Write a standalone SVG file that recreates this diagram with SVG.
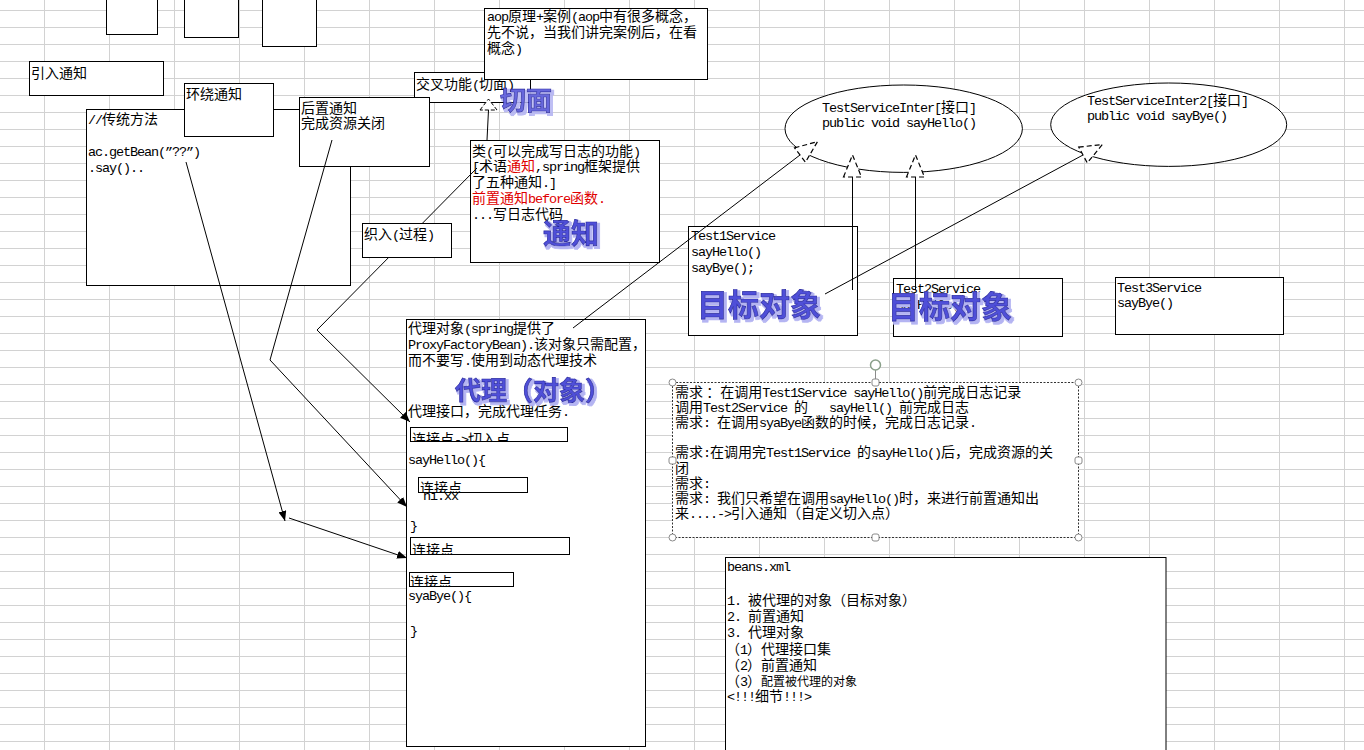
<svg xmlns="http://www.w3.org/2000/svg" width="1364" height="750" viewBox="0 0 1364 750">
<style>
.b{fill:#fff;stroke:#000;stroke-width:1}
.t{font-family:"Noto Sans CJK SC","Liberation Sans",sans-serif;font-size:14px;fill:#000}
.m{font-family:"Liberation Mono","Noto Sans CJK SC",monospace;font-size:13.5px;letter-spacing:-1.1px}
.r{fill:#e00000}
.c{fill:none;stroke:#000;stroke-width:1}
.wa{font-family:"Noto Sans CJK SC",sans-serif;font-weight:bold;fill:#5050d8;stroke:#2828a0;stroke-width:0.7;filter:url(#waf)}
.h{fill:#fff;stroke:#8a8a8a;stroke-width:1}
</style>
<defs>
<filter id="waf" x="-10%" y="-25%" width="125%" height="160%">
<feMorphology in="SourceAlpha" operator="dilate" radius="1.3" result="d"/>
<feOffset in="d" dx="2" dy="2" result="o"/>
<feFlood flood-color="#b4b4f2"/>
<feComposite in2="o" operator="in" result="s"/>
<feMerge><feMergeNode in="s"/><feMergeNode in="SourceGraphic"/></feMerge>
</filter>
<marker id="ah" viewBox="0 0 10 8" refX="10" refY="4" markerWidth="10" markerHeight="8" markerUnits="userSpaceOnUse" orient="auto"><path d="M0,0 L10,4 L0,8 Z" fill="#000"/></marker>
<marker id="tri" viewBox="-2 -2 26 24" refX="0" refY="10" markerWidth="26" markerHeight="24" markerUnits="userSpaceOnUse" orient="auto"><path d="M0,1 L22,10 L0,19 Z" fill="#fff" stroke="#000" stroke-width="1.2" stroke-dasharray="5,3"/></marker>
<clipPath id="cp1"><rect x="411" y="428" width="156" height="13"/></clipPath>
<clipPath id="cp2"><rect x="419" y="478" width="108" height="14"/></clipPath>
<clipPath id="cp3"><rect x="411" y="538" width="158" height="16"/></clipPath>
<clipPath id="cp4"><rect x="410" y="573" width="103" height="13"/></clipPath>
</defs>
<rect x="0" y="0" width="1364" height="750" fill="#fff"/>
<path id="grid" fill="none" stroke="#d2d2d2" stroke-width="1" d="M44.5 0V750M109.5 0V750M174.5 0V750M239.5 0V750M304.5 0V750M369.5 0V750M434.5 0V750M499.5 0V750M564.5 0V750M629.5 0V750M694.5 0V750M759.5 0V750M824.5 0V750M889.5 0V750M954.5 0V750M1019.5 0V750M1084.5 0V750M1149.5 0V750M1214.5 0V750M1279.5 0V750M1344.5 0V750M0 10.5H1364M0 27.5H1364M0 44.5H1364M0 61.5H1364M0 78.5H1364M0 95.5H1364M0 112.5H1364M0 129.5H1364M0 146.5H1364M0 163.5H1364M0 180.5H1364M0 197.5H1364M0 214.5H1364M0 231.5H1364M0 248.5H1364M0 265.5H1364M0 282.5H1364M0 299.5H1364M0 316.5H1364M0 333.5H1364M0 350.5H1364M0 367.5H1364M0 384.5H1364M0 401.5H1364M0 418.5H1364M0 435.5H1364M0 452.5H1364M0 469.5H1364M0 486.5H1364M0 503.5H1364M0 520.5H1364M0 537.5H1364M0 554.5H1364M0 571.5H1364M0 588.5H1364M0 605.5H1364M0 622.5H1364M0 639.5H1364M0 656.5H1364M0 673.5H1364M0 690.5H1364M0 707.5H1364M0 724.5H1364M0 741.5H1364"/>

<g id="box-top1"><rect class="b" x="106.5" y="-5" width="51" height="39.5"/></g>
<g id="box-top2"><rect class="b" x="184.5" y="-5" width="54" height="42.5"/></g>
<g id="box-top3"><rect class="b" x="262.5" y="-5" width="54" height="51.5"/></g>

<g id="n-yinru"><rect class="b" x="29.5" y="61.5" width="134" height="34"/><text class="t" x="31" y="78">引入通知</text></g>

<g id="n-traditional"><rect class="b" x="86.5" y="109.5" width="264" height="176"/>
<text class="t" x="88" y="124"><tspan class="m">//</tspan>传统方法</text>
<text class="t m" x="88" y="156">ac.getBean(”??”)</text>
<text class="t m" x="88" y="172">.say()..</text></g>

<g id="n-around"><rect class="b" x="184.5" y="83.5" width="89" height="53"/><text class="t" x="186" y="99">环绕通知</text></g>

<g id="n-aspect"><rect class="b" x="414.5" y="72.5" width="116" height="30"/><text class="t" x="416" y="89">交叉功能<tspan class="m">(</tspan>切面<tspan class="m">)</tspan></text></g>

<g id="n-after"><rect class="b" x="299.5" y="97.5" width="130" height="69"/><text class="t" x="301" y="112.5">后置通知</text><text class="t" x="301" y="127.5">完成资源关闭</text></g>

<g id="n-aop"><rect class="b" x="484.5" y="8.5" width="223" height="71"/>
<text class="t" x="487" y="20.5"><tspan class="m">aop</tspan>原理<tspan class="m">+</tspan>案例<tspan class="m">(aop</tspan>中有很多概念，</text>
<text class="t" x="487" y="36.5">先不说，当我们讲完案例后，在看</text>
<text class="t" x="487" y="52.5">概念<tspan class="m">)</tspan></text></g>

<g id="n-advice"><rect class="b" x="470.5" y="140.5" width="189" height="122"/>
<text class="t" x="472" y="155.5">类<tspan class="m">(</tspan>可以完成写日志的功能<tspan class="m">)</tspan></text>
<text class="t" x="472" y="171"><tspan class="m">[</tspan>术语<tspan class="r">通知</tspan><tspan class="m">,spring</tspan>框架提供</text>
<text class="t" x="472" y="187">了五种通知<tspan class="m">.]</tspan></text>
<text class="t r" x="472" y="203">前置通知<tspan class="m">before</tspan>函数<tspan class="m">.</tspan></text>
<text class="t" x="472" y="219"><tspan class="m">...</tspan>写日志代码</text></g>

<g id="n-proxy"><rect class="b" x="406.5" y="319.5" width="239" height="427"/>
<text class="t" x="408" y="333">代理对象<tspan class="m">(spring</tspan>提供了</text>
<text class="t" x="408" y="348.5"><tspan class="m">ProxyFactoryBean).</tspan>该对象只需配置，</text>
<text class="t" x="408" y="364.5">而不要写<tspan class="m">.</tspan>使用到动态代理技术</text>
<text class="t" x="408" y="415.5">代理接口，完成代理任务<tspan class="m">.</tspan></text>
<text class="t m" x="408" y="464">sayHello(){</text>
<text class="t m" x="423" y="499.5">hi.xx</text>
<text class="t m" x="410" y="530">}</text>
<text class="t m" x="408" y="600">syaBye(){</text>
<text class="t m" x="410" y="635">}</text></g>

<g id="n-jp1"><rect class="b" x="410.5" y="427.5" width="157" height="14"/><text class="t" x="412" y="444" clip-path="url(#cp1)">连接点<tspan class="m">-&gt;</tspan>切入点</text></g>
<g id="n-jp2"><rect class="b" x="418.5" y="477.5" width="109" height="15"/><text class="t" x="420" y="493" clip-path="url(#cp2)">连接点</text></g>
<g id="n-jp3"><rect class="b" x="410.5" y="537.5" width="159" height="17"/><text class="t" x="412" y="554.5" clip-path="url(#cp3)">连接点</text></g>
<g id="n-jp4"><rect class="b" x="409.5" y="572.5" width="104" height="14"/><text class="t" x="410" y="587.3" clip-path="url(#cp4)">连接点</text></g>

<g id="n-inter1"><ellipse class="b" cx="903.7" cy="128.7" rx="118.7" ry="43.7"/>
<text class="t" x="822" y="112"><tspan class="m">TestServiceInter[</tspan>接口<tspan class="m">]</tspan></text>
<text class="t m" x="822" y="127">public void sayHello()</text></g>

<g id="n-inter2"><ellipse class="b" cx="1168.7" cy="124.7" rx="118" ry="41.7"/>
<text class="t" x="1087" y="105"><tspan class="m">TestServiceInter2[</tspan>接口<tspan class="m">]</tspan></text>
<text class="t m" x="1087" y="119.5">public void sayBye()</text></g>

<g id="n-test1"><rect class="b" x="688.5" y="226.5" width="169" height="109"/>
<text class="t m" x="691" y="240">Test1Service</text>
<text class="t m" x="691" y="256">sayHello()</text>
<text class="t m" x="691" y="272">sayBye();</text></g>

<g id="n-test2"><rect class="b" x="893.5" y="278.5" width="169" height="58"/>
<text class="t m" x="896" y="293">Test2Service</text>
<text class="t m" x="896" y="309">sayHello()</text></g>

<g id="n-test3"><rect class="b" x="1115.5" y="277.5" width="168" height="57"/>
<text class="t m" x="1117" y="291.5">Test3Service</text>
<text class="t m" x="1117" y="306.5">sayBye()</text></g>

<g id="n-req"><rect x="672.5" y="382.5" width="406" height="155" fill="#fff" stroke="#333" stroke-width="1" stroke-dasharray="2,1.5"/>
<text class="t" x="675" y="396.5" xml:space="preserve">需求 ：在调用<tspan class="m">Test1Service sayHello()</tspan>前完成日志记录</text>
<text class="t" x="675" y="411.7" xml:space="preserve">调用<tspan class="m">Test2Service </tspan>的<tspan class="m">   sayHell() </tspan>前完成日志</text>
<text class="t" x="675" y="426.9" xml:space="preserve">需求<tspan class="m">: </tspan>在调用<tspan class="m">syaBye</tspan>函数的时候，完成日志记录<tspan class="m">.</tspan></text>
<text class="t" x="675" y="457.3" xml:space="preserve">需求<tspan class="m">:</tspan>在调用完<tspan class="m">Test1Service </tspan>的<tspan class="m">sayHello()</tspan>后，完成资源的关</text>
<text class="t" x="675" y="472.5">闭</text>
<text class="t" x="675" y="487.7">需求<tspan class="m">:</tspan></text>
<text class="t" x="675" y="502.9" xml:space="preserve">需求<tspan class="m">: </tspan>我们只希望在调用<tspan class="m">sayHello()</tspan>时，来进行前置通知出</text>
<text class="t" x="675" y="518.1">来<tspan class="m">....-&gt;</tspan>引入通知（自定义切入点）</text></g>

<g id="sel-handles">
<line x1="875.5" y1="370" x2="875.5" y2="381" stroke="#8a8a8a"/>
<circle cx="875.5" cy="365" r="5" fill="#fff" stroke="#8aa08a" stroke-width="1.5"/>
<circle class="h" cx="672.5" cy="382.5" r="3.5"/><circle class="h" cx="1078.5" cy="382.5" r="3.5"/>
<circle class="h" cx="672.5" cy="537.5" r="3.5"/><circle class="h" cx="1078.5" cy="537.5" r="3.5"/>
<rect class="h" x="872" y="379" width="7" height="7" rx="2"/><rect class="h" x="872" y="534" width="7" height="7" rx="2"/>
<rect class="h" x="669" y="457" width="7" height="7" rx="2"/><rect class="h" x="1075" y="457" width="7" height="7" rx="2"/>
</g>

<g id="n-beans"><rect class="b" x="725.5" y="557.5" width="440.5" height="200"/>
<text class="t m" x="727" y="570.5">beans.xml</text>
<text class="t" x="727" y="605" xml:space="preserve"><tspan class="m">1. </tspan>被代理的对象（目标对象）</text>
<text class="t" x="727" y="621" xml:space="preserve"><tspan class="m">2. </tspan>前置通知</text>
<text class="t" x="727" y="637" xml:space="preserve"><tspan class="m">3. </tspan>代理对象</text>
<text class="t" x="726" y="653.5">（<tspan class="m">1</tspan>）代理接口集</text>
<text class="t" x="726" y="669.5">（<tspan class="m">2</tspan>）前置通知</text>
<text class="t" x="726" y="686">（<tspan class="m">3</tspan>）<tspan font-size="12px">配置被代理的对象</tspan></text>
<text class="t" x="727" y="700.5"><tspan class="m">&lt;!!!</tspan>细节<tspan class="m">!!!&gt;</tspan></text></g>

<g id="connectors">
<polyline class="c" points="477,168 317,330 410,422" marker-end="url(#ah)"/>
<polyline class="c" points="332,140 270,360 407,507" marker-end="url(#ah)"/>
<line class="c" x1="186" y1="162" x2="285" y2="521" marker-end="url(#ah)"/>
<line class="c" x1="289" y1="518" x2="407" y2="558" marker-end="url(#ah)"/>
<line class="c" x1="487" y1="140" x2="488.5" y2="110"/>
<polygon points="480,110 488.5,99 497,110" fill="#fff" stroke="#000" stroke-width="1" stroke-dasharray="4,2"/>
<line class="c" x1="573" y1="328" x2="800" y2="155" marker-end="url(#tri)"/>
<line class="c" x1="852.5" y1="290" x2="852.5" y2="177" marker-end="url(#tri)"/>
<line class="c" x1="915.5" y1="290" x2="915.5" y2="177" marker-end="url(#tri)"/>
<line class="c" x1="825" y1="294" x2="1083" y2="155" marker-end="url(#tri)"/>
</g>

<g id="n-weave"><rect class="b" x="362.5" y="223.5" width="89" height="34"/><text class="t" x="364" y="239">织入<tspan class="m">(</tspan>过程<tspan class="m">)</tspan></text></g>

<g id="wa-qiemian"><text class="wa" x="500" y="110" font-size="26" fill-opacity="0.85">切面</text></g>
<g id="wa-tongzhi"><text class="wa" x="543" y="244" font-size="28">通知</text></g>
<g id="wa-target1"><text class="wa" x="697" y="316" font-size="31">目标对象</text></g>
<g id="wa-target2"><text class="wa" x="888" y="318" font-size="31">目标对象</text></g>
<g id="wa-proxy"><text class="wa" x="455" y="400" font-size="26">代理（对象）</text></g>
</svg>
